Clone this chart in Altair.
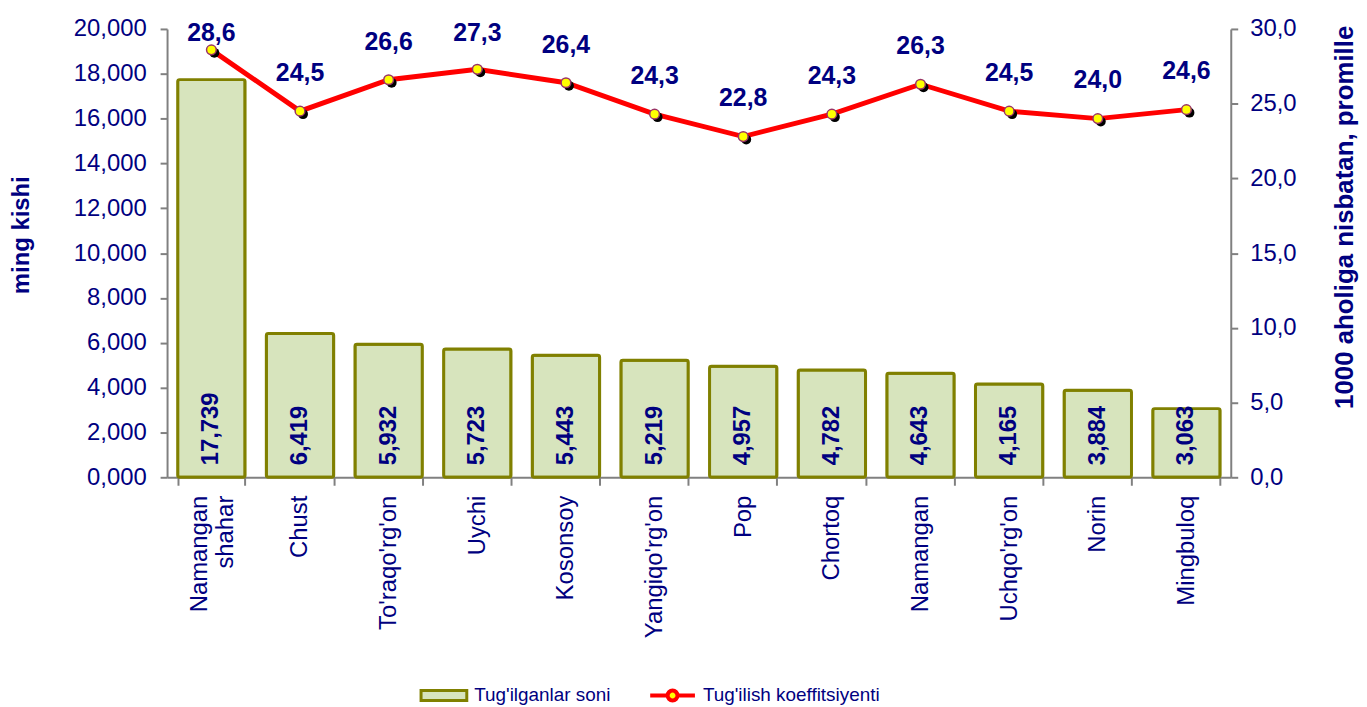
import altair as alt
import pandas as pd

categories = ["Namangan shahar", "Chust", "To'raqo'rg'on", "Uychi", "Kosonsoy",
              "Yangiqo'rg'on", "Pop", "Chortoq", "Namangan", "Uchqo'rg'on",
              "Norin", "Mingbuloq"]
births = [17.739, 6.419, 5.932, 5.723, 5.443, 5.219, 4.957, 4.782, 4.643, 4.165, 3.884, 3.063]
rates = [28.6, 24.5, 26.6, 27.3, 26.4, 24.3, 22.8, 24.3, 26.3, 24.5, 24.0, 24.6]
left_ticks = [0, 2, 4, 6, 8, 10, 12, 14, 16, 18, 20]
right_ticks = [0, 5, 10, 15, 20, 25, 30]
bar_series = "Tug'ilganlar soni"
line_series = "Tug'ilish koeffitsiyenti"

df = pd.DataFrame({"cat": categories, "births": births, "rate": rates,
                   "s1": bar_series, "s2": line_series})

NAVY = "#000080"
GRAY = "#808080"
FONT = "Liberation Sans"
NB = "\u00a0"

x_enc = alt.X("cat:N", sort=None,
              scale=alt.Scale(paddingInner=0.24, paddingOuter=0.12),
              axis=alt.Axis(title=None, labelAngle=270, labelAlign="right",
                            labelBaseline={"condition": {"test": "datum.value == 'Namangan shahar'",
                                                         "value": "bottom"},
                                           "value": "middle"},
                            labelPadding=10,
                            labelFontSize=24, labelColor=NAVY, labelFont=FONT,
                            labelLimit=400, labelOverlap=False, labelLineHeight=26,
                            labelExpr=("datum.value == 'Namangan shahar' ? ['Namangan', 'shahar"
                                       + NB * 4 + "'] : datum.label"),
                            tickBand="extent", tickSize=8, tickColor=GRAY, tickWidth=2,
                            domainColor=GRAY, domainWidth=2, grid=False))

left_axis = alt.Axis(title="ming kishi", values=left_ticks,
                     labelExpr="replace(format(datum.value, '.3f'), '.', ',')",
                     labelFontSize=24, labelColor=NAVY, labelFont=FONT, labelPadding=14,
                     tickSize=7, tickColor=GRAY, tickWidth=2, domainColor=GRAY, domainWidth=2,
                     grid=False, titleFontSize=24, titleFontWeight="bold", titleColor=NAVY,
                     titleFont=FONT, titleAngle=270, titleX=-146, titleY=207,
                     titleAlign="center", titleBaseline="middle", orient="left")

right_axis = alt.Axis(title="1000 aholiga nisbatan, promille", values=right_ticks,
                      labelExpr="replace(format(datum.value, '.1f'), '.', ',')",
                      labelFontSize=24, labelColor=NAVY, labelFont=FONT, labelPadding=12,
                      tickSize=7, tickColor=GRAY, tickWidth=2, domainColor=GRAY, domainWidth=2,
                      grid=False, titleFontSize=26, titleFontWeight="bold", titleColor=NAVY,
                      titleFont=FONT, titleAngle=270, titleX=114, titleY=189,
                      titleAlign="center", titleBaseline="middle", orient="right")

base = alt.Chart(df)

bars = base.mark_bar(stroke="#808000", strokeWidth=3, cornerRadius=2).encode(
    x=x_enc,
    y=alt.Y("births:Q", scale=alt.Scale(domain=[0, 20]), axis=left_axis),
    fill=alt.Fill("s1:N", scale=alt.Scale(domain=[bar_series], range=["#d7e4bd"]),
                  legend=alt.Legend(title=None, orient="none", legendX=254, legendY=646,
                                    padding=0, symbolType="M-1,-0.22H1V0.22H-1Z",
                                    symbolSize=2116, symbolStrokeColor="#808000",
                                    symbolStrokeWidth=3, labelFontSize=19, labelColor=NAVY,
                                    labelFont=FONT, labelOffset=6, symbolOffset=0,
                                    labelLimit=400)),
)

bar_text = base.transform_calculate(
    blab="replace(format(datum.births, '.3f'), '.', ',')"
).mark_text(angle=270, align="left", baseline="middle", dx=12, fontSize=24,
            fontWeight="bold", color=NAVY, font=FONT).encode(
    x=alt.X("cat:N", sort=None),
    y=alt.datum(0),
    text="blab:N",
)

left = alt.layer(bars, bar_text)

y_right = alt.Y("rate:Q", scale=alt.Scale(domain=[0, 30]), axis=right_axis)

line = base.mark_line(strokeWidth=5).encode(
    x=alt.X("cat:N", sort=None),
    y=y_right,
    stroke=alt.Stroke("s2:N", scale=alt.Scale(domain=[line_series], range=["#ff0000"]),
                      legend=alt.Legend(title=None, orient="none", legendX=484, legendY=646,
                                        padding=0,
                                        symbolType="M-1,0H-0.24M0.24,0H1M-0.22,0A0.22,0.22 0 1,1 0.22,0A0.22,0.22 0 1,1 -0.22,0Z",
                                        symbolSize=2025, symbolStrokeWidth=4,
                                        symbolFillColor="#ffff00",
                                        labelFontSize=19, labelColor=NAVY, labelFont=FONT,
                                        labelOffset=6, symbolOffset=0, labelLimit=400)),
)

shadow = base.mark_point(filled=True, color="black", size=100, xOffset=3, yOffset=3,
                         opacity=1).encode(x=alt.X("cat:N", sort=None), y="rate:Q")

points = base.mark_point(filled=True, fill="#ffff00", stroke="#993366", strokeWidth=1.5,
                         size=95, opacity=1).encode(x=alt.X("cat:N", sort=None), y="rate:Q")

line_text = base.transform_calculate(
    rlab="replace(format(datum.rate, '.1f'), '.', ',')",
    ly="min(datum.rate + 2.55, 29.7)",
).mark_text(fontSize=25, fontWeight="bold", color=NAVY, font=FONT,
            baseline="middle").encode(
    x=alt.X("cat:N", sort=None),
    y="ly:Q",
    text="rlab:N",
)

right = alt.layer(line, shadow, points, line_text)

chart = alt.layer(left, right).resolve_scale(
    y="independent"
).properties(
    width=1070, height=451,
    autosize=alt.AutoSizeParams(type="none"),
    padding={"left": 160, "top": 19, "right": 129, "bottom": 229},
).configure_view(stroke=None)

chart.save("out.html", embed_options={"renderer": "svg", "actions": False})
